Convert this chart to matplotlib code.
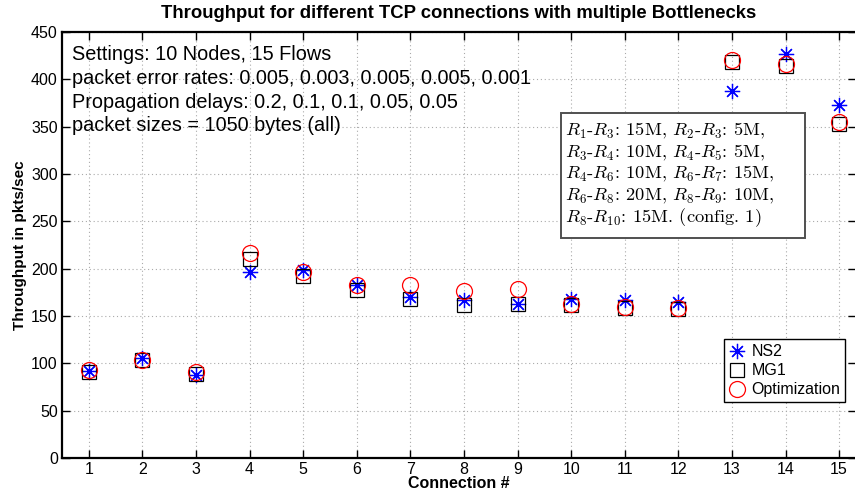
import numpy as np
import matplotlib.pyplot as plt
from matplotlib.patches import Rectangle

plt.rcParams['font.family'] = ['Liberation Sans', 'DejaVu Sans']
plt.rcParams['mathtext.fontset'] = 'cm'

# throughput per TCP connection (pkts/sec)
connections = np.arange(1, 16)
ns2 = [92, 106, 88, 196, 199, 183, 170, 167, 163, 168, 167, 165, 388, 427, 373]
mg1 = [91, 103, 89, 210, 192, 177, 168, 162, 163, 162, 158, 157, 418, 414, 353]
optim = [93, 104, 91, 217, 197, 183, 183, 176, 178, 163, 159, 158, 420, 416, 355]
y_ticks = np.arange(0, 451, 50)

settings = ["Settings: 10 Nodes, 15 Flows",
            "packet error rates: 0.005, 0.003, 0.005, 0.005, 0.001",
            "Propagation delays: 0.2, 0.1, 0.1, 0.05, 0.05",
            "packet sizes = 1050 bytes (all)"]
links = [r"$R_1\text{-}R_3\text{: 15M, }R_2\text{-}R_3\text{: 5M,}$",
         r"$R_3\text{-}R_4\text{: 10M, }R_4\text{-}R_5\text{: 5M,}$",
         r"$R_4\text{-}R_6\text{: 10M, }R_6\text{-}R_7\text{: 15M,}$",
         r"$R_6\text{-}R_8\text{: 20M, }R_8\text{-}R_9\text{: 10M,}$",
         r"$R_8\text{-}R_{10}\text{: 15M. (config. 1)}$"]

fig = plt.figure(figsize=(8.55, 4.97), dpi=100)
W, H = 855, 497
ax = fig.add_axes([62 / W, (H - 458) / H, (856 - 62) / W, (458 - 32) / H])

# matlab-style asterisk: 8 spokes
ax.plot(connections, ns2, linestyle='none', marker=(8, 2, 0), color='#0000ff',
        markersize=11, markeredgewidth=0.9, label='NS2')
ax.plot(connections, mg1, linestyle='none', marker='s', markerfacecolor='none',
        markeredgecolor='black', markersize=9.5, markeredgewidth=0.9, label='MG1')
ax.plot(connections, optim, linestyle='none', marker='o', markerfacecolor='none',
        markeredgecolor='#ff0000', markersize=11.5, markeredgewidth=0.9,
        label='Optimization')

ax.set_xlim(0.5, 15.315)
ax.set_ylim(0, 450)
ax.set_xticks(connections)
ax.set_yticks(y_ticks)
ax.tick_params(direction='in', length=6, width=1, top=True, right=True,
               labelsize=11.5, pad=3)
ax.grid(True, linestyle=(0, (1, 2.5)), color='#aaaaaa', linewidth=0.8)
for sp in ax.spines.values():
    sp.set_linewidth(1.6)

ax.set_xlabel('Connection #', fontsize=11.5, fontweight='bold', labelpad=-1)
ax.set_ylabel('Throughput in pkts/sec', fontsize=11, fontweight='bold',
              labelpad=3)
ax.set_title('Throughput for different TCP connections with multiple Bottlenecks',
             fontsize=13.3, fontweight='bold', pad=10)

for i, line in enumerate(settings):
    fig.text(72 / W, 1 - (55 + 23.6 * i) / H, line, fontsize=14.3,
             va='center', ha='left')

# link capacities box
fig.patches.append(Rectangle((561 / W, 1 - 238 / H), (805 - 561) / W, (238 - 113) / H,
                             transform=fig.transFigure, facecolor='white',
                             edgecolor='#505050', linewidth=1.4, zorder=5))
for i, line in enumerate(links):
    fig.text(565 / W, 1 - (131 + 21.7 * i) / H, line, fontsize=13.3,
             va='center', ha='left', zorder=6)

leg = ax.legend(loc='lower right', bbox_to_anchor=(845 / W, (H - 402) / H),
                bbox_transform=fig.transFigure, fontsize=11.5, frameon=True,
                fancybox=False, edgecolor='black', framealpha=1,
                handlelength=1.0, handletextpad=0.4, borderpad=0.3,
                labelspacing=0.25, borderaxespad=0)
leg.get_frame().set_linewidth(1.0)

fig.savefig('out.png', dpi=100)
